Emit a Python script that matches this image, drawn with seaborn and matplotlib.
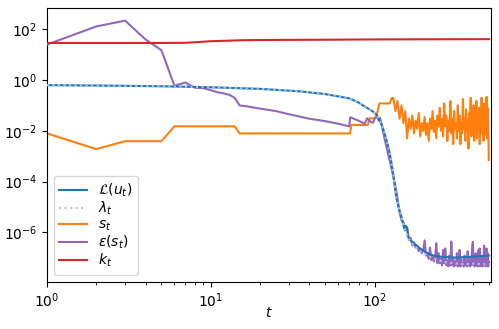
import matplotlib
matplotlib.use("Agg")
import matplotlib.pyplot as plt
import numpy as np
import seaborn as sns

# loss L(u_t) and lambda_t
t_loss = [1, 2, 5, 10, 20, 35, 50, 70, 80, 85, 90, 98, 103, 107, 111, 115, 120, 124,
          127, 130, 133, 136, 140, 146, 150, 153, 155, 158, 160, 165, 175, 190, 200,
          215, 230, 250, 280, 315, 350, 400, 450, 500]
loss = [0.63, 0.61, 0.57, 0.52, 0.45, 0.36, 0.28, 0.19, 0.13, 0.10, 0.08, 0.057, 0.042,
        0.027, 0.016, 0.008, 0.003, 1.2e-3, 5e-4, 2e-4, 6e-5, 2.2e-5, 1e-5, 4e-6, 1.8e-6,
        1.2e-6, 1.8e-6, 1.5e-6, 7e-7, 5e-7, 3.5e-7, 2.3e-7, 1.8e-7, 1.4e-7, 1.2e-7,
        1.1e-7, 1.05e-7, 1.0e-7, 1.05e-7, 1.1e-7, 1.15e-7, 1.2e-7]

t_lam = [1, 2, 5, 10, 20, 35, 50, 70, 80, 85, 90, 98, 103, 107, 111, 115, 120, 124,
         127, 130, 133, 136, 140, 146, 150, 160, 170, 190, 210, 230, 260, 300, 350,
         400, 450, 500]
lam = [0.63, 0.61, 0.57, 0.52, 0.45, 0.36, 0.28, 0.19, 0.13, 0.10, 0.08, 0.057, 0.042,
       0.027, 0.016, 0.008, 0.003, 1.2e-3, 5e-4, 2e-4, 6e-5, 2.2e-5, 1e-5, 4e-6, 1.8e-6,
       6e-7, 3.5e-7, 1.8e-7, 1.2e-7, 9e-8, 7e-8, 6e-8, 5.5e-8, 5.8e-8, 5.5e-8, 5.5e-8]

# s_t: stepped start, then noisy from t=130 (every 4th step)
t_s_head = [1, 2, 3, 5, 6, 14, 15, 71, 72, 91, 93, 100, 103, 107, 124, 127]
s_head = [0.0079, 0.0019, 0.0039, 0.0039, 0.015, 0.015, 0.0079, 0.0079, 0.017, 0.017,
          0.031, 0.031, 0.04, 0.12, 0.12, 0.19]
s_tail = [0.20, 0.06, 0.15, 0.03, 0.10, 0.02, 0.06, 0.005, 0.03, 0.012,
          0.04, 0.008, 0.025, 0.012, 0.05, 0.006, 0.02, 0.01, 0.035, 0.007,
          0.02, 0.004, 0.03, 0.012, 0.06, 0.009, 0.025, 0.005, 0.04, 0.015,
          0.08, 0.01, 0.03, 0.006, 0.12, 0.015, 0.04, 0.004, 0.025, 0.01,
          0.15, 0.008, 0.03, 0.003, 0.06, 0.012, 0.02, 0.005, 0.1, 0.01,
          0.04, 0.003, 0.02, 0.008, 0.18, 0.012, 0.03, 0.004, 0.07, 0.01,
          0.025, 0.002, 0.05, 0.015, 0.2, 0.006, 0.03, 0.009, 0.1, 0.004,
          0.02, 0.012, 0.15, 0.005, 0.04, 0.01, 0.08, 0.003, 0.025, 0.008,
          0.2, 0.01, 0.05, 0.004, 0.12, 0.007, 0.03, 0.012, 0.22, 0.005,
          0.08, 0.02, 0.0007]

# eps(s_t)
t_eps_head = [1, 2, 3, 4, 5, 6, 7, 8, 9, 10, 11, 12, 13, 14, 15, 17, 20, 25, 30, 40,
              50, 60, 70, 71, 80, 87, 90, 95, 98, 100, 104, 106, 108, 110, 113, 117,
              121, 125, 129, 133, 136, 139]
eps_head = [25, 130, 220, 40, 15, 0.6, 0.8, 0.5, 0.48, 0.40, 0.33, 0.30, 0.26, 0.20,
            0.10, 0.09, 0.075, 0.06, 0.045, 0.03, 0.024, 0.019, 0.015, 0.034, 0.025,
            0.019, 0.031, 0.022, 0.021, 0.030, 0.036, 0.025, 0.032, 0.020, 0.008,
            0.003, 1.2e-3, 5e-4, 2e-4, 8e-5, 4e-5, 1.5e-5]
eps_tail = [6e-6, 3e-6, 2.5e-6, 1.2e-6, 1.5e-6, 5e-7, 6e-7, 3e-7, 4e-7, 2.5e-7,
            3e-7, 1.8e-7, 2.2e-7, 1.5e-7, 2e-7, 4.8e-7, 1.2e-7, 1.5e-7, 9e-8, 2.5e-7,
            8e-8, 1.2e-7, 7e-8, 1e-7, 3.7e-7, 6e-8, 1.5e-7, 6e-8, 9e-8, 5e-8,
            2e-7, 6e-8, 2.3e-7, 5e-8, 8e-8, 4.5e-8, 1.2e-7, 5e-8, 4.3e-7, 5e-8,
            1e-7, 4.5e-8, 7e-8, 5e-8, 1.5e-7, 4.5e-8, 6e-8, 2e-7, 4.5e-8, 9e-8,
            5e-8, 6e-8, 4.5e-8, 1.2e-7, 5e-8, 7e-8, 4.5e-8, 1.8e-7, 5e-8, 8e-8,
            4.5e-8, 1e-7, 5e-8, 2.5e-7, 4.2e-7, 5e-8, 9e-8, 4.5e-8, 1.5e-7, 5e-8,
            6e-8, 4.5e-8, 2e-7, 5e-8, 2.3e-7, 4.5e-8, 8e-8, 5e-8, 1.2e-7, 4.5e-8,
            6e-8, 3e-7, 5e-8, 9e-8, 4.5e-8, 2.3e-7, 5e-8, 1.5e-7, 4.5e-8, 7e-8]

# k_t
t_k = [1, 5, 7, 8, 10, 15, 20, 50, 100, 200, 500]
k = [29, 29, 29.5, 31, 34, 37, 38, 39, 40, 40.5, 41]

t_s = np.concatenate([t_s_head, 130 + 4 * np.arange(len(s_tail))])
s = np.concatenate([s_head, s_tail])
t_eps = np.concatenate([t_eps_head, 142 + 4 * np.arange(len(eps_tail))])
eps = np.concatenate([eps_head, eps_tail])

fig, ax = plt.subplots(figsize=(4.99, 3.29), dpi=100)

sns.lineplot(x=t_loss, y=loss, ax=ax, color="#1f77b4", label=r"$\mathcal{L}(u_t)$", zorder=4)
sns.lineplot(x=t_lam, y=lam, ax=ax, color="#aec7e8", linestyle=":", label=r"$\lambda_t$", zorder=5)
sns.lineplot(x=t_s, y=s, ax=ax, color="#ff7f0e", label=r"$s_t$", zorder=2)
sns.lineplot(x=t_eps, y=eps, ax=ax, color="#9467bd", label=r"$\varepsilon(s_t)$", zorder=3)
sns.lineplot(x=t_k, y=k, ax=ax, color="#d62728", label=r"$k_t$", zorder=3)

ax.set_xscale("log")
ax.set_yscale("log")
ax.set_xlim(1, 510)
ax.set_ylim(1.1e-8, 6.8e2)
ax.set_xlabel(r"$t$", labelpad=-3)
ax.set_ylabel("")
ax.legend(loc="lower left", labelspacing=0.05)

fig.subplots_adjust(left=0.094, right=0.983, top=0.975, bottom=0.143)
fig.savefig("out.png", dpi=100)
